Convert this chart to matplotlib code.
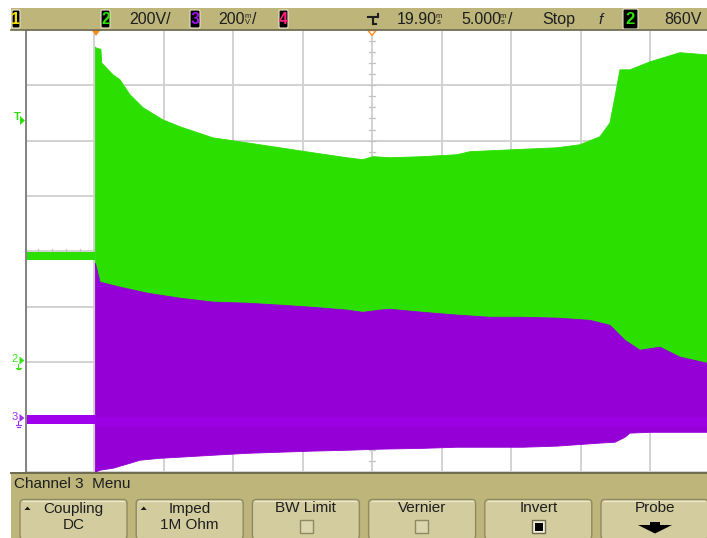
import numpy as np
import matplotlib
matplotlib.use("Agg")
import matplotlib.pyplot as plt
from matplotlib.patches import Rectangle, FancyBboxPatch, Polygon

plt.rcParams['font.family'] = ['Liberation Sans', 'DejaVu Sans']

# ---- scope settings ----
time_per_div = 5.0        # ms/div
delay = 19.90             # ms at screen centre
ch2_scale = 200.0         # V/div
ch3_scale = 200.0         # mV/div
ch2_ground_div = -2.0     # ground marker position (divisions from centre)
ch3_ground_div = -3.02
trigger_level = 860.0     # V on channel 2

# ---- channel 2 (green), volts ----
ch2_pre_level = 383.0
ch2_pre_half = 15.0
ch2_top_t = [0.0, 0.05, 0.40, 0.45, 1.27, 1.77, 2.49, 3.43, 4.86, 6.09, 8.46, 10.91,
             13.28, 15.66, 18.10, 19.25, 19.97, 21.19, 23.57, 26.01, 26.95, 30.04,
             33.21, 34.86, 36.30, 37.02, 37.38, 37.74, 38.46, 39.90, 42.06, 44.0, 45.0]
ch2_top_v = [1139, 1135, 1130, 1081, 1038, 1020, 966, 919, 875, 850, 810, 792,
             774, 756, 738, 731, 742, 738, 742, 749, 760, 767,
             774, 785, 814, 864, 958, 1056, 1056, 1085, 1118, 1110, 1110]
ch2_bot_t = [0.0, 0.3, 2.0, 36.5, 37.4, 38.5, 45.0]
ch2_bot_v = [351, 230, 115, 115, 60, -5, -5]

# ---- channel 3 (purple), millivolts ----
ch3_pre_level = -5.0
ch3_pre_half = 15.0
ch3_top_t = [0.0, 0.34, 1.77, 3.76, 6.09, 8.46, 10.91, 13.28, 15.66, 18.10, 19.25,
             20.47, 21.19, 23.57, 26.01, 28.38, 30.76, 33.21, 35.58, 37.02, 38.10,
             39.18, 40.62, 42.06, 44.0, 45.0]
ch3_top_v = [561, 492, 474, 452, 434, 420, 416, 409, 401, 391, 383,
             391, 394, 383, 373, 365, 365, 362, 354, 336, 282,
             246, 257, 221, 199, 199]
ch3_bot_t = [0.0, 0.34, 1.27, 2.49, 3.21, 4.65, 6.09, 8.46, 10.91, 13.28, 15.66,
             18.10, 20.47, 23.57, 26.01, 30.76, 33.21, 36.30, 37.38, 38.10, 38.46,
             39.90, 45.0]
ch3_bot_v = [-195, -188, -181, -163, -152, -145, -141, -134, -127, -123, -119,
             -116, -112, -109, -105, -105, -101, -90, -87, -69, -54,
             -51, -51]
ch3_band = (-33.0, 4.0)

GREEN = '#2BDF00'
PURPLE = '#9400D6'
PURPLE_HI = '#A000EC'
TAN = '#BDB57A'
BTN = '#D3CC9E'
INK = '#1E1E1E'

W, H = 707, 538
fig = plt.figure(figsize=(W / 100, H / 100), dpi=100)
fig.patch.set_facecolor('white')

# pixel geometry of the graticule
gx0, gdx = 24.5, 69.5
gy0, gdy = 30.0, 55.3

def fx(px):
    return px / W

def fy(py):
    return 1 - py / H

# ---- waveform area ----
ax = fig.add_axes([fx(gx0), fy(gy0 + 8 * gdy), 10 * gdx / W, 8 * gdy / H])
t_left = delay - 5 * time_per_div
t_right = delay + 5 * time_per_div
ax.set_xlim(t_left, t_right)
ax.set_ylim(-4, 4)
ax.set_facecolor('white')
ax.axis('off')

for k in range(-5, 6):
    ax.axvline(delay + k * time_per_div, color='#CFCFCF', lw=1.3, zorder=1)
for k in range(-4, 5):
    ax.axhline(k, color='#CFCFCF', lw=1.3, zorder=1)
ax.axvline(t_left, color='#858585', lw=2.2, zorder=6)

# minor ticks on the centre lines
for k in np.arange(-4, 4.01, 0.2):
    ax.plot([delay - 0.25, delay + 0.25], [k, k], color='#C4C4C4', lw=0.9, zorder=1)
for k in np.arange(t_left, t_right + 0.01, 1.0):
    ax.plot([k, k], [-0.045, 0.045], color='#C4C4C4', lw=0.9, zorder=1)


def d2(v):
    return np.asarray(v, float) / ch2_scale + ch2_ground_div


def d3(v):
    return np.asarray(v, float) / ch3_scale + ch3_ground_div


# channel 2
ax.fill_between([t_left, 0.0], d2(ch2_pre_level - ch2_pre_half), d2(ch2_pre_level + ch2_pre_half),
                color=GREEN, lw=0, zorder=3)
ax.fill(np.concatenate([ch2_top_t, ch2_bot_t[::-1]]),
        np.concatenate([d2(ch2_top_v), d2(ch2_bot_v[::-1])]),
        color=GREEN, lw=0.6, ec=GREEN, zorder=3)

# channel 3
ax.fill_between([t_left, 0.0], d3(ch3_pre_level - ch3_pre_half), d3(ch3_pre_level + ch3_pre_half),
                color=PURPLE_HI, lw=0, zorder=4)
ax.fill(np.concatenate([ch3_top_t, ch3_bot_t[::-1]]),
        np.concatenate([d3(ch3_top_v), d3(ch3_bot_v[::-1])]),
        color=PURPLE, lw=0.6, ec=PURPLE, zorder=4)
ax.fill_between([0.0, t_right], d3(ch3_band[0]), d3(ch3_band[1]), color=PURPLE_HI, lw=0,
                alpha=0.6, zorder=4)

# ---- overlay in screen pixels ----
ui = fig.add_axes([0, 0, 1, 1], zorder=10)
ui.set_xlim(0, W)
ui.set_ylim(H, 0)
ui.axis('off')
ui.patch.set_alpha(0)

# status bar
ui.add_patch(Rectangle((11, 8), W - 11, 22, fc=TAN, ec='none'))
ui.plot([11, W], [30, 30], color='#6E6A50', lw=1.2)


def chan_box(x0, x1, label, color, y0=10, y1=28, fs=11.5):
    ui.add_patch(FancyBboxPatch((x0, y0), x1 - x0, y1 - y0, boxstyle='round,pad=0,rounding_size=1.5',
                                fc='black', ec='#E8E4CC', lw=0.8))
    ui.text((x0 + x1) / 2, (y0 + y1) / 2 + 0.5, label, color=color, fontsize=fs,
            ha='center', va='center', fontweight='bold')


def stacked(x, pair, y=19.5):
    ui.text(x, y, pair, fontsize=5.5, linespacing=0.8, ha='center', va='center', color=INK)


txt = dict(fontsize=11.5, va='center', color=INK)
chan_box(12, 20, '1', '#F0E000')
chan_box(101, 110, '2', '#30E000')
ui.text(129, 19.5, '200V/', **txt)
chan_box(190, 200, '3', '#A010F0')
ui.text(218, 19.5, '200', **txt)
stacked(248, 'm\nV')
ui.text(252.5, 19.5, '/', **txt)
chan_box(279, 288, '4', '#FF2080')

# trigger symbol
ui.plot([368, 378], [17, 17], color=INK, lw=1.5)
ui.plot([373, 373], [17, 24], color=INK, lw=1.5)
ui.plot([373, 376], [24, 24], color=INK, lw=1.5)
ui.plot([378, 378], [14, 17], color=INK, lw=1.5)

ui.text(397, 19.5, '19.90', **txt)
stacked(439, 'm\ns')
ui.text(461, 19.5, '5.000', **txt)
stacked(503, 'm\ns')
ui.text(507.5, 19.5, '/', **txt)
ui.text(542, 19.5, 'Stop', **txt)
ui.text(601, 19.5, 'f', fontsize=11, fontstyle='italic', ha='center', va='center', color=INK)
chan_box(623, 638, '2', '#30E000', y0=9, y1=29, fs=12)
ui.text(664, 19.5, '860V', **txt)

# trigger position markers
ui.add_patch(Polygon([[91.5, 30], [100.5, 30], [96, 36]], closed=True, fc='#FF8C1A', ec='none'))
ui.add_patch(Polygon([[368, 30.5], [376, 30.5], [372, 35.5]], closed=True, fc='white',
                     ec='#FF8C1A', lw=1.0))

# left-side channel markers
ui.text(17.5, 117, 'T', color=GREEN, fontsize=8, fontweight='bold', ha='center', va='center')
ui.add_patch(Polygon([[20, 116], [20, 125], [25, 120.5]], closed=True, fc=GREEN, ec='none'))


def ground_marker(y, label, color):
    ui.text(14.5, y - 1, label, color=color, fontsize=8, ha='center', va='center')
    ui.add_patch(Polygon([[19.5, y - 4], [19.5, y + 4], [24.5, y]], closed=True, fc=color, ec='none'))
    ui.plot([18, 18], [y + 3, y + 7], color=color, lw=0.8)
    ui.plot([15.5, 20.5], [y + 7, y + 7], color=color, lw=0.8)
    ui.plot([16.5, 19.5], [y + 8.5, y + 8.5], color=color, lw=0.8)


ground_marker(360.5, '2', '#39E61A')
ground_marker(418, '3', '#A030F0')

# softkey menu
ui.add_patch(Rectangle((11, 472), W - 11, H - 472, fc=TAN, ec='none'))
ui.plot([11, W], [472.5, 472.5], color='#6E6A50', lw=1.4)
ui.text(14, 484, 'Channel 3  Menu', fontsize=11, va='center', ha='left', color=INK)

labels = [('Coupling', 'DC'), ('Imped', '1M Ohm'), ('BW Limit', None),
          ('Vernier', None), ('Invert', None), ('Probe', None)]
for i, (l1, l2) in enumerate(labels):
    x0 = 20 + i * 116.2
    ui.add_patch(FancyBboxPatch((x0, 499.5), 107, 40, boxstyle='round,pad=0,rounding_size=4',
                                fc=BTN, ec='#8E8962', lw=1.0))
    ui.plot([x0 + 3, x0 + 104], [500.5, 500.5], color='#ECE7C6', lw=1.0)
    cx = x0 + 53.5
    ui.text(cx, 508.5, l1, fontsize=11, ha='center', va='center', color=INK)
    if l2:
        ui.text(cx, 525, l2, fontsize=11, ha='center', va='center', color=INK)
    if i in (0, 1):
        ui.add_patch(Polygon([[x0 + 4.5, 510], [x0 + 10.5, 510], [x0 + 7.5, 506.5]], closed=True,
                             fc=INK, ec='none'))

# checkboxes and probe arrow
for bx in (300, 415):
    ui.add_patch(Rectangle((bx, 520), 13, 13, fc='#DCD6AE', ec='#8E8962', lw=1.0))
ui.add_patch(Rectangle((532, 520), 13, 13, fc='#F2EFD8', ec='#6E6A50', lw=1.0))
ui.add_patch(Rectangle((534.5, 522.5), 8, 8, fc='black', ec='none'))
ui.add_patch(Rectangle((650, 521.5), 10, 4, fc='black', ec='none'))
ui.add_patch(Polygon([[638, 525], [672, 525], [655, 533.5]], closed=True, fc='black', ec='none'))

fig.savefig('out.png', dpi=100, facecolor='white')
